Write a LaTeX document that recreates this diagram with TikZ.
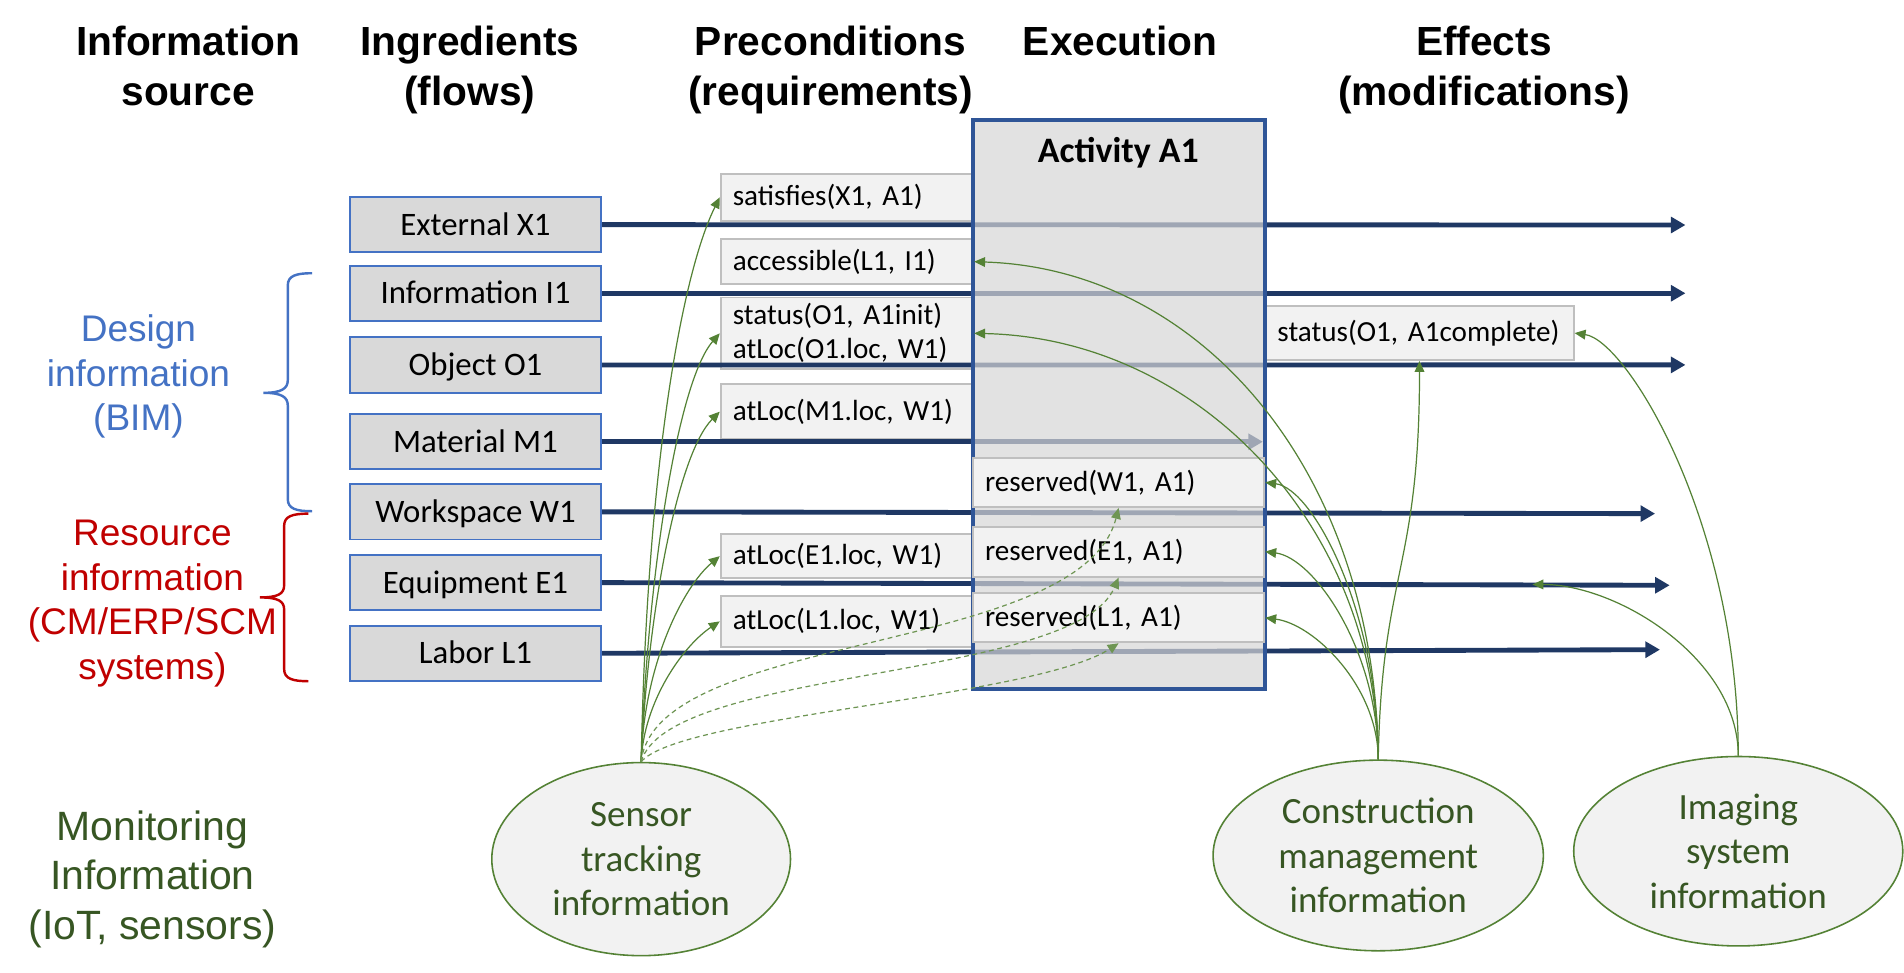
\documentclass[tikz,border=0pt]{standalone}
\usepackage{fontspec}
\setmainfont{Carlito}
\newfontfamily\arialfont{Liberation Sans}
\usetikzlibrary{arrows.meta,shapes.geometric}
\definecolor{navy}{HTML}{1F3864}
\definecolor{boxblue}{HTML}{4472C4}
\definecolor{actblue}{HTML}{2F5597}
\definecolor{ingfill}{HTML}{D9D9D9}
\definecolor{prefill}{HTML}{F2F2F2}
\definecolor{preline}{HTML}{BFBFBF}
\definecolor{grn}{HTML}{548235}
\definecolor{dgrn}{HTML}{375623}
\definecolor{designblue}{HTML}{4472C4}
\definecolor{resred}{HTML}{C00000}
\definecolor{actfill}{HTML}{D6D6D6}
\frenchspacing
\begin{document}
\begin{tikzpicture}[x=1pt,y=-1pt,
  header/.style={font=\arialfont\bfseries\fontsize{33.5}{41}\selectfont,align=center,anchor=north,inner sep=0pt},
  sidelabel/.style={font=\arialfont\fontsize{30.5}{36.7}\selectfont,align=center,anchor=north,inner sep=0pt},
  ingbox/.style={draw=boxblue,line width=1.5pt,fill=ingfill,minimum width=207pt,minimum height=45.5pt,inner sep=0pt,font=\fontsize{27}{32}\selectfont,text height=17.4pt,text depth=0pt},
  prebox/.style={draw=preline,line width=1.5pt,fill=prefill,inner xsep=10pt,inner ysep=0pt,align=left,font=\fontsize{24}{28}\selectfont},
  flow/.style={draw=navy,line width=4pt,-{Triangle[length=12pt,width=13pt]}},
  ellnode/.style={ellipse,draw=grn,line width=1.3pt,fill=prefill,inner sep=0pt,align=center,text=dgrn,font=\fontsize{30.5}{36.5}\selectfont},
  garrow/.style={draw=grn,line width=1pt,-{Triangle[length=9pt,width=8pt]}},
  gdash/.style={garrow,draw=grn!85,dash pattern=on 4pt off 3pt},
  bracepath/.style={line width=2pt}
]
\path[use as bounding box,fill=white] (0,0) rectangle (1568,800.5);

% headers
\node[header] (h1) at (155,21) {Information\\source};
\node[header] (h2) at (387,21) {Ingredients\\(flows)};
\node[header] (h3) at (684,21) {Preconditions\\(requirements)};
\node[header] (h4) at (922.5,21) {Execution};
\node[header] (h5) at (1222,21) {Effects\\(modifications)};

% side labels
\node[sidelabel,text=designblue] (design) at (114,259.2) {Design\\information\\(BIM)};
\node[sidelabel,text=resred] (resource) at (125.5,428.2) {Resource\\information\\(CM/ERP/SCM\\systems)};
\node[sidelabel,text=dgrn,font=\arialfont\fontsize{33.7}{40.5}\selectfont] (monitor) at (125.5,667.7) {Monitoring\\Information\\(IoT, sensors)};

% braces
\draw[bracepath,draw=designblue] (257,225) .. controls (244,225) and (237,227) .. (237,235) -- (237,313)
  .. controls (237,320) and (232,323.5) .. (217,323.5) .. controls (232,323.5) and (237,327) .. (237,334)
  -- (237,411) .. controls (237,419) and (244,421) .. (257,421);
\draw[bracepath,draw=resred] (254,423) .. controls (241,423) and (234,425) .. (234,433) -- (234,482)
  .. controls (234,489) and (229,492) .. (214,492) .. controls (229,492) and (234,495) .. (234,502)
  -- (234,551) .. controls (234,559) and (241,561) .. (254,561);

% precondition boxes
\node[prebox,text width=188pt,minimum height=39pt] (sat) at (697.5,162.5) {satisfies(X1, A1)};
\node[prebox,text width=188pt,minimum height=37pt] (acc) at (697.5,215.5) {accessible(L1, I1)};
\node[prebox,text width=188pt,minimum height=59pt] (stat) at (697.5,274.5) {status(O1, A1init)\\atLoc(O1.loc, W1)};
\node[prebox,text width=188pt,minimum height=45.5pt] (atM) at (697.5,339) {atLoc(M1.loc, W1)};
\node[prebox,text width=188pt,minimum height=36.5pt] (atE) at (697.5,458) {atLoc(E1.loc, W1)};
\node[prebox,text width=188pt,minimum height=41.8pt] (atL) at (697.5,511.7) {atLoc(L1.loc, W1)};
\node[prebox,text width=234pt,minimum height=44.5pt] (statusC) at (1169,274.3) {status(O1, A1complete)};

% ingredient boxes
\node[ingbox] (X1) at (391.6,185) {External X1};
\node[ingbox] (I1) at (391.6,241.5) {Information I1};
\node[ingbox] (O1) at (391.6,300.6) {Object O1};
\node[ingbox] (M1) at (391.6,363.8) {Material M1};
\node[ingbox] (W1) at (391.6,421.5) {Workspace W1};
\node[ingbox] (E1) at (391.6,479.8) {Equipment E1};
\node[ingbox] (L1) at (391.6,538) {Labor L1};

% flow ends
\coordinate (X1end) at (1388,185.3);
\coordinate (I1end) at (1388,241.5);
\coordinate (O1end) at (1388,300.5);
\coordinate (M1end) at (1040,363.8);
\coordinate (W1end) at (1363,423);
\coordinate (E1end) at (1375,482);
\coordinate (L1end) at (1367,535);
\coordinate (e1tap) at (1262,481.3);

\draw[flow] (X1.east) -- (X1end);
\draw[flow] (I1.east) -- (I1end);
\draw[flow] (O1.east) -- (O1end);
\draw[flow] (M1.east) -- (M1end);
\draw[flow] (W1.east) -- (W1end);
\draw[flow] (E1.east) -- (E1end);
\draw[flow] (L1.east) -- (L1end);

% activity box
\node[draw=actblue,line width=3pt,fill=actfill,fill opacity=0.7,minimum width=240.5pt,minimum height=468.5pt,inner sep=0pt] (act) at (921.75,333.25) {};
\node[font=\bfseries\fontsize{29.5}{34}\selectfont,anchor=base,inner sep=0pt] (acttitle) at (921,134) {Activity A1};

\node[prebox,text width=220pt,minimum height=40.5pt] (resW) at (921.2,397.3) {reserved(W1, A1)};
\node[prebox,text width=220pt,minimum height=41.2pt] (resE) at (921.2,454.3) {reserved(E1, A1)};
\node[prebox,text width=220pt,minimum height=40.4pt] (resL) at (921.2,508.8) {reserved(L1, A1)};

% ellipses
\node[ellnode,minimum width=246pt,minimum height=159pt] (sensor) at (528,707.5) {Sensor\\tracking\\information};
\node[ellnode,minimum width=272pt,minimum height=157pt] (cm) at (1135,704.5) {Construction\\management\\information};
\node[ellnode,minimum width=271pt,minimum height=156pt] (img) at (1431.5,701) {Imaging\\system\\information};

% sensor arrows
\draw[garrow] (sensor.north) .. controls +(5,-250) and +(-30,60) .. (sat.west);
\draw[garrow] (sensor.north) .. controls +(5,-150) and +(-35,40) .. (stat.west);
\draw[garrow] (sensor.north) .. controls +(5,-120) and +(-35,35) .. (atM.west);
\draw[garrow] (sensor.north) .. controls +(2,-80) and +(-30,25) .. (atE.west);
\draw[garrow] (sensor.north) .. controls +(2,-50) and +(-30,20) .. (atL.west);
\draw[gdash] (sensor.north) .. controls +(12,-108) and +(-31,122) .. (resW.south);
\draw[gdash] (sensor.north) .. controls +(22,-78) and +(-36,85) .. (resE.south);
\draw[gdash] (sensor.north) .. controls +(32,-38) and +(-70,45) .. (resL.south);

% construction management arrows
\draw[garrow] (cm.north) .. controls +(-2,-236) and +(188,6) .. (acc.east);
\draw[garrow] (cm.north) .. controls +(-2,-194) and +(184,4) .. (stat.east);
\draw[garrow] (cm.north) .. controls +(0,-120) and +(40,5) .. (resW.east);
\draw[garrow] (cm.north) .. controls +(0,-90) and +(40,5) .. (resE.east);
\draw[garrow] (cm.north) .. controls +(0,-60) and +(40,5) .. (resL.east);
\draw[garrow] (cm.north) .. controls +(3,-156) and +(0,173) .. (statusC.south);

% imaging arrows
\draw[garrow] (img.north) .. controls +(0,-192) and +(43,6) .. (statusC.east);
\draw[garrow] (img.north) .. controls +(0,-80) and +(70,0) .. (e1tap);
\end{tikzpicture}
\end{document}
